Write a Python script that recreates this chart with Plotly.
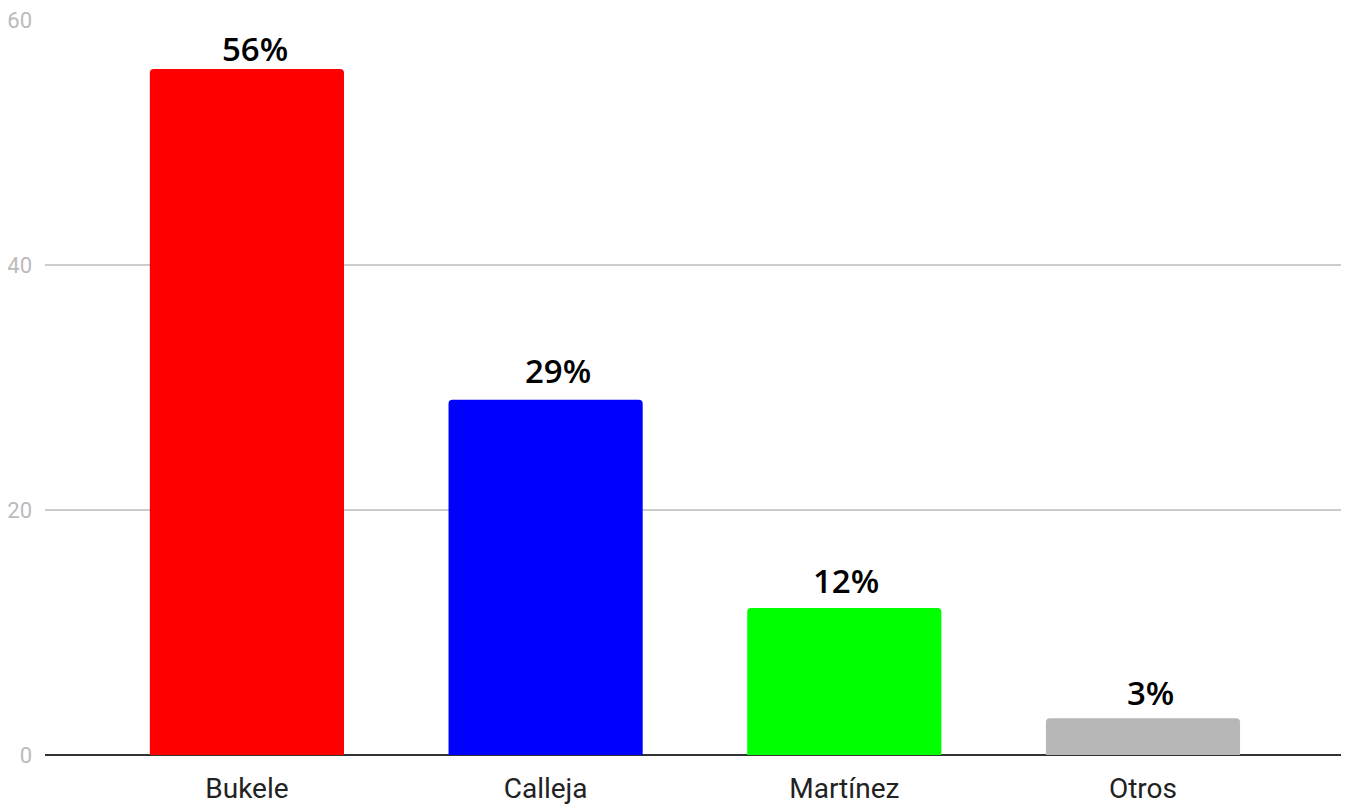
import plotly.graph_objects as go

categories = ["Bukele", "Calleja", "Martínez", "Otros"]
values = [56, 29, 12, 3]
labels = ["56%", "29%", "12%", "3%"]
colors = ["#ff0000", "#0000ff", "#00ff00", "#b7b7b7"]

# label offsets (pixels) as seen in the reference
label_xshift = [8, 12, 2, 8]
label_yshift = [-4, 5, 3, 1]

fig = go.Figure(go.Bar(
    x=categories, y=values,
    marker=dict(color=colors, line=dict(width=0)),
))
for cat, val, lab, dx, dy in zip(categories, values, labels, label_xshift, label_yshift):
    fig.add_annotation(
        x=cat, y=val, text=lab, showarrow=False, yanchor="bottom",
        xshift=dx, yshift=dy,
        font=dict(family="Open Sans", size=33, color="#000000", weight=600),
    )
fig.update_layout(
    width=1349, height=806,
    margin=dict(l=37, r=13, t=12, b=59),
    plot_bgcolor="white", paper_bgcolor="white",
    bargap=0.35, barcornerradius=4,
    showlegend=False,
    xaxis=dict(range=[-0.676, 3.673], showgrid=False, showline=False, ticks="",
               ticklabelstandoff=14, automargin=False,
               tickfont=dict(family="Roboto", size=28, color="#222222")),
    yaxis=dict(range=[0, 60.01], tickvals=[0, 20, 40, 60], showgrid=True,
               gridcolor="#cccccc", gridwidth=2, zeroline=True, zerolinecolor="#333333",
               zerolinewidth=2, showline=False, ticks="", ticklabelstandoff=12,
               automargin=False, ticklabeloverflow="allow",
               tickfont=dict(family="Roboto", size=22, color="#bbbbbb")),
)
fig.write_html("out.html")
